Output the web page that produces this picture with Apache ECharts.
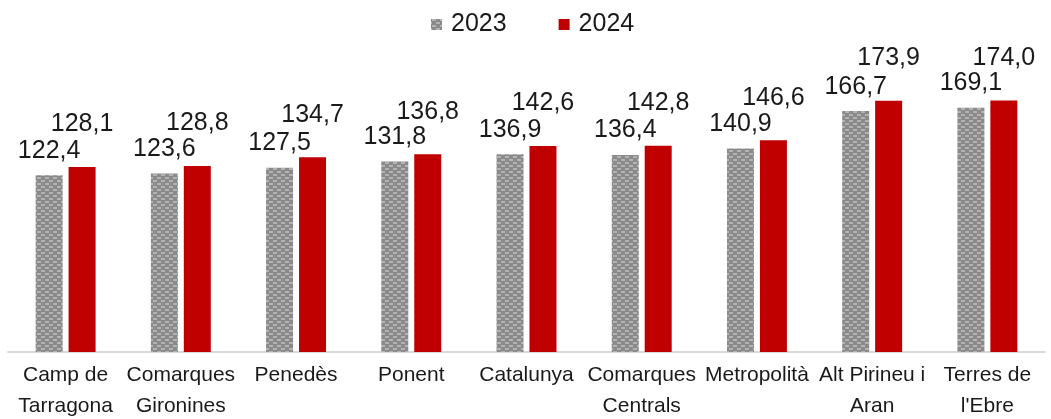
<!DOCTYPE html>
<html>
<head>
<meta charset="utf-8">
<script src="https://cdn.jsdelivr.net/npm/echarts@6/dist/echarts.min.js"></script>
<style>
  html, body { margin: 0; padding: 0; background: #fff; }
  #main { width: 1051px; height: 419px; }
</style>
</head>
<body>
<div id="main"></div>
<script>
const categories = ['Camp de\nTarragona', 'Comarques\nGironines', 'Penedès', 'Ponent', 'Catalunya',
  'Comarques\nCentrals', 'Metropolità', 'Alt Pirineu i\nAran', "Terres de\nl'Ebre"];
const values2023 = [122.4, 123.6, 127.5, 131.8, 136.9, 136.4, 140.9, 166.7, 169.1];
const values2024 = [128.1, 128.8, 134.7, 136.8, 142.6, 142.8, 146.6, 173.9, 174.0];
const seriesNames = ['2023', '2024'];

// grey checkered fill for 2023
function makePattern() {
  const c = document.createElement('canvas');
  c.width = 8; c.height = 6;
  const ctx = c.getContext('2d');
  ctx.fillStyle = '#8a8a8a';
  ctx.fillRect(0, 0, 8, 6);
  ctx.fillStyle = '#b3b3b3';
  ctx.fillRect(1, 0, 4, 2);
  ctx.fillRect(5, 3, 3, 2);
  ctx.fillRect(0, 3, 1, 2);
  return c;
}

const fmt = p => p.value.toFixed(1).replace('.', ',');
const labelStyle = {
  show: true, position: 'top', formatter: fmt,
  fontFamily: 'Liberation Sans', fontSize: 25, color: '#1a1a1a'
};

const chart = echarts.init(document.getElementById('main'));
chart.setOption({
  animation: false,
  legend: {
    top: 7, left: 426,
    icon: 'rect',
    itemWidth: 11, itemHeight: 11, itemGap: 52,
    textStyle: { fontFamily: 'Liberation Sans', fontSize: 25, color: '#1a1a1a', padding: [0, 0, 0, 4] },
    data: seriesNames
  },
  grid: { left: 8, right: 6, top: 63, bottom: 67, outerBoundsMode: 'none' },
  xAxis: {
    type: 'category',
    data: categories,
    axisLine: { lineStyle: { color: '#d9d9d9', width: 2 } },
    axisTick: { show: false },
    axisLabel: {
      interval: 0, margin: 8,
      fontFamily: 'Liberation Sans', fontSize: 21, lineHeight: 31, color: '#1a1a1a'
    }
  },
  yAxis: { type: 'value', min: 0, max: 200, show: false, splitLine: { show: false } },
  series: [
    {
      name: seriesNames[0], type: 'bar', data: values2023,
      barWidth: 27, barGap: '22%',
      itemStyle: { color: { image: makePattern(), repeat: 'repeat' } },
      label: Object.assign({}, labelStyle, { distance: 12 })
    },
    {
      name: seriesNames[1], type: 'bar', data: values2024,
      barWidth: 27,
      itemStyle: { color: '#c00000' },
      label: Object.assign({}, labelStyle, { distance: 30 })
    }
  ]
});
</script>
</body>
</html>
